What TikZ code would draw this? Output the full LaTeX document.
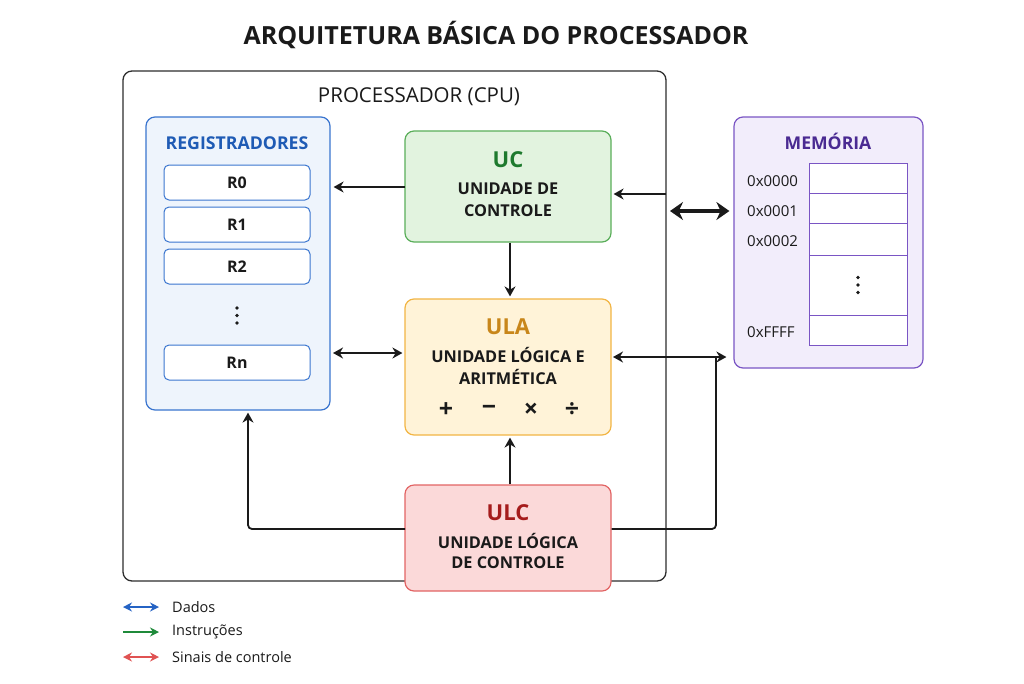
\documentclass[tikz,border=0pt]{standalone}
\usepackage{fontspec}
\setmainfont{Open Sans}
\usetikzlibrary{arrows.meta,calc}
\definecolor{cpuline}{HTML}{2E2E2E}
\definecolor{regline}{HTML}{3A75CF}
\definecolor{regfill}{HTML}{EEF4FC}
\definecolor{regtext}{HTML}{1F5BB5}
\definecolor{ucline}{HTML}{5AAE5A}
\definecolor{ucfill}{HTML}{E2F3DF}
\definecolor{uctext}{HTML}{1E7A2E}
\definecolor{ulaline}{HTML}{F2B544}
\definecolor{ulafill}{HTML}{FFF3D8}
\definecolor{ulatext}{HTML}{C8861A}
\definecolor{ulcline}{HTML}{E26464}
\definecolor{ulcfill}{HTML}{FBD9D9}
\definecolor{ulctext}{HTML}{A51C1C}
\definecolor{memline}{HTML}{7A55C4}
\definecolor{memfill}{HTML}{F2EDFB}
\definecolor{memtext}{HTML}{4A2A92}
\definecolor{txt}{HTML}{1A1A1A}
\definecolor{legblue}{HTML}{2563C4}
\definecolor{leggreen}{HTML}{1F8A3A}
\definecolor{legred}{HTML}{E05252}
\newcommand{\fs}[1]{\fontsize{#1}{#1}\selectfont}
\tikzset{
  panel/.style={draw, rounded corners=9pt, line width=1.3pt, inner sep=0pt},
  regcell/.style={draw=regline, fill=white, rounded corners=5pt, line width=1pt,
    minimum width=146pt, minimum height=35pt, inner sep=0pt, text=txt, font=\fs{16}\bfseries},
  memcell/.style={draw=memline, fill=white, line width=1pt, minimum width=98pt, inner sep=0pt},
  lbl/.style={text=txt, inner sep=0pt},
  dot/.style={fill=txt, draw=none, circle, inner sep=0pt, minimum size=3.6pt},
  conn/.style={line width=1.8pt, draw=txt, -{Stealth[length=10pt,width=11pt]}},
  conn2/.style={line width=1.8pt, draw=txt, {Stealth[length=10pt,width=11pt]}-{Stealth[length=10pt,width=11pt]}},
  leg/.style={line width=2.2pt, {Stealth[length=9pt,width=9pt]}-{Stealth[length=9pt,width=9pt]}},
}
\begin{document}
\begin{tikzpicture}[x=1pt,y=-1pt]
\useasboundingbox (0,0) rectangle (1024,683);
\fill[white] (0,0) rectangle (1024,683);

% title
\node[lbl, font=\fs{25}\bfseries] (title) at (496,35) {ARQUITETURA BÁSICA DO PROCESSADOR};

% CPU
\node[panel, draw=cpuline, minimum width=543pt, minimum height=510pt] (cpu) at (394.5,326) {};
\node[lbl, font=\fs{20.5}] (cputitle) at (419,97) {PROCESSADOR (CPU)};

% Registers
\node[panel, draw=regline, fill=regfill, line width=1.2pt, minimum width=184pt, minimum height=293pt] (regs) at (238,263.5) {};
\node[lbl, text=regtext, font=\fs{17.7}\bfseries] (regtitle) at (237,143) {REGISTRADORES};
\node[regcell] (r0) at (237,182.5) {R0};
\node[regcell] (r1) at (237,224.5) {R1};
\node[regcell] (r2) at (237,266.5) {R2};
\node[dot] (rd1) at (237,308) {};
\node[dot] (rd2) at (237,315.5) {};
\node[dot] (rd3) at (237,323) {};
\node[regcell] (rn) at (237,362.5) {Rn};

% UC
\node[panel, draw=ucline, fill=ucfill, line width=1.2pt, minimum width=206pt, minimum height=111pt] (uc) at (508,186.5) {};
\node[lbl, text=uctext, font=\fs{22}\bfseries] (uct) at (508,160) {UC};
\node[lbl, font=\fs{16.3}\bfseries] (uct1) at (508,189) {UNIDADE DE};
\node[lbl, font=\fs{16.3}\bfseries] (uct2) at (508,211) {CONTROLE};

% ULA
\node[panel, draw=ulaline, fill=ulafill, line width=1.2pt, minimum width=206pt, minimum height=136pt] (ula) at (508,367) {};
\node[lbl, text=ulatext, font=\fs{22}\bfseries] (ulat) at (508,327) {ULA};
\node[lbl, font=\fs{16.3}\bfseries] (ulat1) at (508,355) {UNIDADE LÓGICA E};
\node[lbl, font=\fs{16.3}\bfseries] (ulat2) at (508,377) {ARITMÉTICA};
\node[lbl, font=\fs{25}\bfseries] (opa) at (446,410) {+};
\node[lbl, font=\fs{25}\bfseries] (opb) at (489,410) {−};
\node[lbl, font=\fs{25}\bfseries] (opc) at (531,410) {×};
\node[lbl, font=\fs{25}\bfseries] (opd) at (572,410) {÷};

% ULC
\node[panel, draw=ulcline, fill=ulcfill, line width=1.2pt, minimum width=206pt, minimum height=106pt] (ulc) at (508,538) {};
\node[lbl, text=ulctext, font=\fs{22}\bfseries] (ulct) at (508,513) {ULC};
\node[lbl, font=\fs{16.3}\bfseries] (ulct1) at (508,541) {UNIDADE LÓGICA};
\node[lbl, font=\fs{16.3}\bfseries] (ulct2) at (508,563) {DE CONTROLE};

% Memory
\node[panel, draw=memline, fill=memfill, line width=1.2pt, minimum width=189pt, minimum height=251pt] (mem) at (828.5,242.5) {};
\node[lbl, text=memtext, font=\fs{17.6}\bfseries] (memt) at (828,141) {MEMÓRIA};
\node[memcell, minimum height=30pt] (m0) at (858,178) {};
\node[memcell, minimum height=30pt] (m1) at (858,208) {};
\node[memcell, minimum height=32pt] (m2) at (858,239) {};
\node[memcell, minimum height=60pt] (mdots) at (858,285) {};
\node[dot] (md1) at (858,277.5) {};
\node[dot] (md2) at (858,285) {};
\node[dot] (md3) at (858,292.5) {};
\node[memcell, minimum height=30pt] (mf) at (858,330) {};
\node[lbl, font=\fs{15}, anchor=west] (a0) at (747,181) {0x0000};
\node[lbl, font=\fs{15}, anchor=west] (a1) at (747,211) {0x0001};
\node[lbl, font=\fs{15}, anchor=west] (a2) at (747,241) {0x0002};
\node[lbl, font=\fs{15}, anchor=west] (af) at (747,332) {0xFFFF};

% connectors
\coordinate (ucL) at (405,187);
\draw[conn] (ucL) -- ([xshift=3pt]regs.east |- ucL);
\coordinate (cpuR) at (666,194);
\draw[conn] (cpuR) -- ([xshift=2pt]uc.east |- cpuR);
\coordinate (busY) at (670,211);
\draw[line width=4pt, draw=txt, {Stealth[length=13pt,width=18pt]}-{Stealth[length=13pt,width=18pt]}] (busY) -- ([xshift=-4pt]mem.west |- busY);
\draw[conn] (uc.south -| 510,0) -- ([yshift=2pt]ula.north -| 510,0);
\coordinate (rnY) at (333,353);
\draw[conn2] (rnY) -- ([xshift=-2pt]ula.west |- rnY);
\coordinate (memY) at (613,357);
\draw[conn2] (memY) -- ([xshift=-7pt]mem.west |- memY);
\draw[conn] (ulc.north -| 510,0) -- ([yshift=-2pt]ula.south -| 510,0);
\coordinate (ulcY) at (405,529);
\draw[conn, rounded corners=4pt] (ulcY) -- (248,529) -- ([yshift=-2pt]regs.south -| 248,0);
\draw[line width=1.8pt, draw=txt, rounded corners=4pt] (ulc.east |- ulcY) -- (716,529) -- (716,357);

% legend
\coordinate (l1a) at (123,607); \coordinate (l1b) at (159,607);
\coordinate (l2a) at (123,632); \coordinate (l2b) at (159,632);
\coordinate (l3a) at (123,657); \coordinate (l3b) at (159,657);
\draw[leg, legblue] (l1a) -- (l1b);
\draw[line width=2.2pt, leggreen, -{Stealth[length=9pt,width=9pt]}] (l2a) -- (l2b);
\draw[leg, legred] (l3a) -- (l3b);
\node[lbl, font=\fs{14.5}, anchor=west] (lt1) at (172,607) {Dados};
\node[lbl, font=\fs{14.5}, anchor=west] (lt2) at (172,632) {Instruções};
\node[lbl, font=\fs{14.5}, anchor=west] (lt3) at (172,657) {Sinais de controle};
\end{tikzpicture}
\end{document}
